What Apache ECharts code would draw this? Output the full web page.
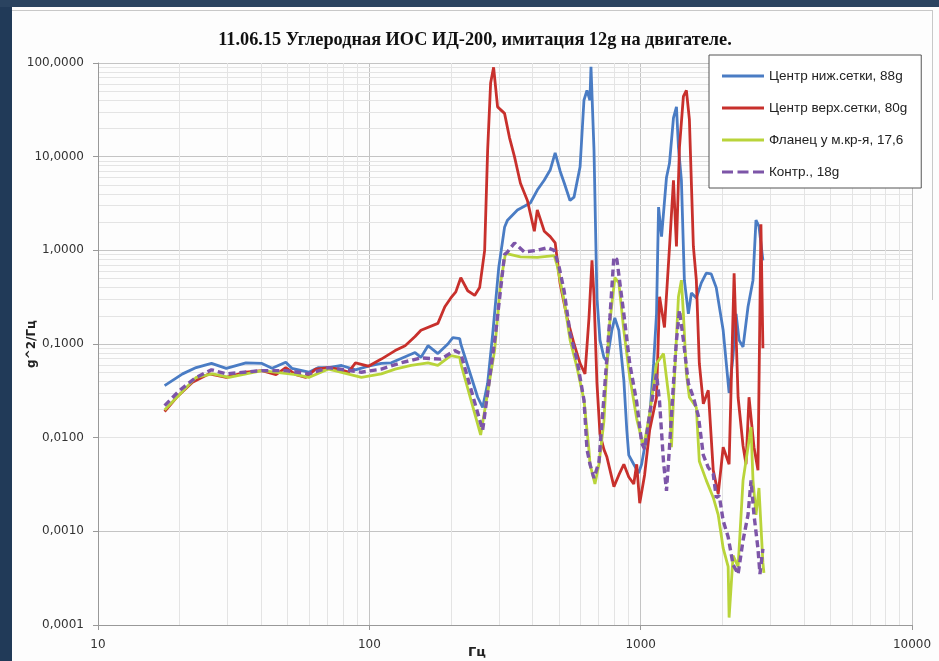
<!DOCTYPE html>
<html><head><meta charset="utf-8">
<script src="https://cdn.jsdelivr.net/npm/echarts/dist/echarts.min.js"></script>
<style>html,body{margin:0;padding:0;background:#fff;}#c{width:939px;height:661px;}</style>
</head><body><div id="c"></div>
<script>
const titleText = '11.06.15 Углеродная ИОС ИД-200, имитация 12g на двигателе.';
const seriesNames = ['Центр ниж.сетки, 88g', 'Центр верх.сетки, 80g', 'Фланец у м.кр-я, 17,6', 'Контр., 18g'];
const xTickLabels = {10: '10', 100: '100', 1000: '1000', 10000: '10000'};
const yTickLabels = {100: '100,0000', 10: '10,0000', 1: '1,0000', 0.1: '0,1000', 0.01: '0,0100', 0.001: '0,0010', 0.0001: '0,0001'};

const blueData = [[17.6,0.036],[20.5,0.048],[23,0.056],[26.2,0.062],[29.7,0.055],[35.1,0.063],[40.2,0.062],[43.8,0.055],[49.2,0.064],[51.8,0.055],[59.8,0.050],[65,0.056],[70.8,0.056],[79,0.059],[88.9,0.053],[99.2,0.058],[110.7,0.062],[120.4,0.063],[131,0.070],[147.4,0.081],[155,0.072],[164.5,0.096],[178.9,0.079],[194.7,0.10],[203.1,0.117],[215.4,0.114],[217.3,0.10],[250.8,0.027],[261.6,0.021],[272.9,0.038],[285,0.13],[300,0.66],[315,1.76],[323,2.1],[351.5,2.7],[392,3.2],[416,4.4],[441,5.6],[464,7.2],[484,11],[505,7],[522,5.3],[549,3.4],[568,3.7],[598,7.8],[618,40],[634,51],[650,40],[656,91],[673,11.7],[690,0.31],[708,0.11],[732,0.072],[751,0.065],[783,0.14],[803,0.19],[831,0.14],[867,0.041],[889,0.012],[904,0.0065],[943,0.0052],[983,0.0042],[1008,0.0052],[1034,0.0079],[1079,0.016],[1116,0.062],[1144,0.21],[1164,2.9],[1194,1.4],[1245,6.0],[1277,8.5],[1321,26],[1355,34],[1378,12.6],[1413,5.6],[1449,0.48],[1499,0.21],[1538,0.35],[1604,0.31],[1673,0.45],[1745,0.57],[1820,0.56],[1899,0.40],[2014,0.14],[2118,0.03],[2191,0.075],[2247,0.21],[2305,0.11],[2384,0.093],[2487,0.25],[2594,0.48],[2661,2.1],[2729,1.8],[2822,0.78]];

const redData = [[17.6,0.019],[19.5,0.027],[22.3,0.039],[25.7,0.048],[29.7,0.044],[35.1,0.050],[40.2,0.052],[45.3,0.047],[49.2,0.056],[53.6,0.047],[58.3,0.044],[63.4,0.054],[70.8,0.056],[77,0.054],[83.8,0.050],[88.9,0.063],[99.2,0.058],[110.7,0.069],[124.5,0.085],[135.5,0.096],[147.4,0.12],[155,0.14],[178.9,0.166],[189.8,0.25],[199.7,0.31],[208.3,0.36],[217.3,0.51],[230.5,0.37],[244.5,0.33],[255,0.40],[266.1,1.0],[272.9,11.7],[279.9,61],[287.1,90],[296.9,34],[315,29],[328.5,16],[342.7,10],[360.5,5.2],[382.4,3.4],[405.7,1.6],[415.9,2.7],[441.3,1.6],[464.2,1.4],[484.2,1.2],[504.9,0.44],[535.6,0.19],[568.3,0.10],[597.8,0.062],[623.5,0.048],[645,0.19],[661.6,0.78],[672.8,0.33],[690.1,0.038],[707.9,0.011],[732,0.0075],[751,0.0062],[797,0.0030],[831,0.0040],[867,0.0052],[904,0.0038],[943,0.0032],[967,0.0052],[992,0.0020],[1034,0.0040],[1079,0.012],[1144,0.027],[1174,0.32],[1224,0.15],[1277,1.07],[1321,5.6],[1355,1.1],[1390,12.6],[1437,44],[1474,51],[1512,25],[1564,1.1],[1604,0.48],[1645,0.062],[1702,0.023],[1775,0.032],[1851,0.0045],[1931,0.0025],[2014,0.0079],[2118,0.0052],[2210,0.57],[2286,0.027],[2384,0.0082],[2445,0.0052],[2508,0.027],[2616,0.0079],[2706,0.0045],[2775,1.9],[2822,0.09]];

const greenData = [[17.6,0.0197],[23,0.044],[26.4,0.048],[30.4,0.044],[40.2,0.052],[53.6,0.047],[59.8,0.044],[70.8,0.054],[93.5,0.044],[110.7,0.048],[124.5,0.054],[142.5,0.059],[164.5,0.063],[178.9,0.059],[199.7,0.075],[215.4,0.072],[217.3,0.062],[257.2,0.0107],[289.5,0.085],[304.5,0.45],[317.6,0.93],[360.5,0.85],[415.9,0.84],[480.1,0.88],[492.4,0.69],[522.2,0.29],[549.4,0.11],[582.9,0.056],[618.3,0.025],[645,0.0073],[650.5,0.0052],[678.5,0.0032],[701.9,0.0052],[732.2,0.015],[763.7,0.14],[803.4,0.51],[831,0.45],[866.8,0.14],[911.3,0.045],[966.7,0.016],[1025.6,0.0079],[1079,0.018],[1144,0.062],[1214,0.079],[1277,0.024],[1299,0.0079],[1321,0.026],[1378,0.32],[1413,0.48],[1437,0.21],[1474,0.048],[1512,0.027],[1604,0.021],[1645,0.0056],[1745,0.0035],[1851,0.0023],[1931,0.0015],[2014,0.00066],[2101,0.00042],[2118,0.00012],[2191,0.00055],[2286,0.00042],[2384,0.0035],[2487,0.0079],[2551,0.013],[2594,0.0035],[2661,0.0015],[2729,0.0029],[2822,0.00046],[2846,0.00036]];

const purpleData = [[17.6,0.022],[20,0.032],[23,0.044],[26.2,0.053],[29.7,0.048],[40.2,0.052],[49.2,0.052],[59.8,0.048],[70.8,0.056],[93.5,0.050],[110.7,0.054],[131,0.063],[155,0.071],[183.5,0.069],[206.5,0.085],[217.3,0.079],[261.6,0.012],[292,0.13],[315,0.90],[323,0.96],[342.7,1.2],[372.9,0.96],[415.9,1.0],[452.6,1.07],[480.1,1.0],[500.7,0.66],[522.2,0.37],[549.4,0.13],[582.9,0.067],[618.3,0.025],[634.2,0.0075],[650.5,0.0052],[672.8,0.0037],[701.9,0.0055],[732.2,0.027],[770.1,0.19],[796.6,0.85],[817.1,0.80],[866.8,0.21],[911.3,0.062],[966.7,0.024],[1008.5,0.0088],[1034.4,0.0075],[1079,0.018],[1144,0.048],[1174,0.024],[1214,0.0055],[1245,0.0027],[1277,0.0079],[1321,0.038],[1355,0.11],[1390,0.23],[1437,0.11],[1499,0.038],[1564,0.027],[1632,0.017],[1702,0.0065],[1775,0.0048],[1851,0.0041],[1899,0.0023],[1948,0.0024],[2014,0.0013],[2101,0.00087],[2191,0.00044],[2286,0.00035],[2384,0.0008],[2487,0.0015],[2551,0.0035],[2616,0.0015],[2706,0.00065],[2752,0.00035],[2822,0.00065]];

const colors = ['#4a7cc4', '#c8302c', '#b9d43a', '#7d55a8'];
const solidIcon = 'path://M0,0H42V3H0Z';
const dashIcon = 'path://M0,0H11V3H0Z M15.5,0H26.5V3H15.5Z M31,0H42V3H31Z';

const xMinor = [];
for (let e = 1; e <= 3; e++) for (let k = 2; k <= 9; k++) xMinor.push({xAxis: k * Math.pow(10, e)});
const yMinor = [];
for (let e = -4; e <= 1; e++) for (let k = 2; k <= 9; k++) yMinor.push({yAxis: +(k * Math.pow(10, e)).toPrecision(3)});

const chart = echarts.init(document.getElementById('c'));
const font = 'DejaVu Sans';
chart.setOption({
  animation: false,
  backgroundColor: '#fdfdfd',
  title: {
    text: titleText, left: 470, top: 26, textAlign: 'center',
    textStyle: {fontFamily: 'Liberation Serif', fontWeight: 'bold', fontSize: 18.3, color: '#111'}
  },
  graphic: [
    {type: 'rect', left: 0, top: 0, shape: {width: 12, height: 661}, style: {fill: '#213a58'}, z: 100},
    {type: 'rect', left: 0, top: 0, shape: {width: 939, height: 7}, style: {fill: '#2a4360'}, z: 100},
    {type: 'line', shape: {x1: 12, y1: 10.5, x2: 932, y2: 10.5}, style: {stroke: '#c8c8c8', lineWidth: 1}, z: 100},
    {type: 'line', shape: {x1: 932.5, y1: 10, x2: 932.5, y2: 300}, style: {stroke: '#c8c8c8', lineWidth: 1}, z: 100}
  ],
  legend: {
    data: [
      {name: seriesNames[0], icon: solidIcon},
      {name: seriesNames[1], icon: solidIcon},
      {name: seriesNames[2], icon: solidIcon},
      {name: seriesNames[3], icon: dashIcon}
    ],
    orient: 'vertical', left: 709, top: 55, z: 20,
    itemWidth: 42, itemHeight: 14, itemGap: 18, symbolKeepAspect: true,
    padding: [14, 14, 9, 13],
    borderColor: '#555', borderWidth: 1, backgroundColor: '#fff',
    textStyle: {fontFamily: 'Liberation Sans', fontSize: 13.5, color: '#222'}
  },
  grid: {left: 98, top: 63, width: 814, height: 562, outerBoundsMode: 'none', containLabel: false},
  xAxis: {
    type: 'log', logBase: 10, min: 10, max: 10000,
    name: 'Гц', nameLocation: 'middle', nameGap: 21, nameMoveOverlap: false,
    nameTextStyle: {fontFamily: font, fontWeight: 'bold', fontSize: 13, color: '#222', padding: [0, 56, 0, 0]},
    axisLine: {lineStyle: {color: '#999'}},
    axisTick: {show: true, length: 5, lineStyle: {color: '#999'}},
    axisLabel: {formatter: v => xTickLabels[Math.round(v)] || '', margin: 14, fontFamily: font, fontSize: 12, color: '#333'},
    splitLine: {show: true, lineStyle: {color: '#c4c4c4'}}
  },
  yAxis: {
    type: 'log', logBase: 10, min: 0.0001, max: 100,
    name: 'g^2/Гц', nameLocation: 'middle', nameGap: 60, nameMoveOverlap: false,
    nameTextStyle: {fontFamily: font, fontWeight: 'bold', fontSize: 12, color: '#222'},
    axisLine: {show: true, lineStyle: {color: '#999'}},
    axisTick: {show: true, length: 5, lineStyle: {color: '#999'}},
    axisLabel: {formatter: v => yTickLabels[+v.toPrecision(3)] || '', margin: 14, fontFamily: font, fontSize: 12, color: '#333'},
    splitLine: {show: true, lineStyle: {color: '#c4c4c4'}}
  },
  series: [
    {name: 'grid-minor', type: 'line', data: [[10, 1]], symbol: 'none', lineStyle: {opacity: 0}, silent: true, z: 0,
     markLine: {z: 0, silent: true, symbol: 'none', label: {show: false}, animation: false,
       lineStyle: {color: '#e4e4e4', width: 1, type: 'solid'}, data: xMinor.concat(yMinor)}},
    {name: seriesNames[0], type: 'line', data: blueData, symbol: 'none', color: colors[0], lineStyle: {width: 2.8, color: colors[0]}, z: 6},
    {name: seriesNames[1], type: 'line', data: redData, symbol: 'none', color: colors[1], lineStyle: {width: 2.8, color: colors[1]}, z: 7},
    {name: seriesNames[2], type: 'line', data: greenData, symbol: 'none', color: colors[2], lineStyle: {width: 2.8, color: colors[2]}, z: 8},
    {name: seriesNames[3], type: 'line', data: purpleData, symbol: 'none', color: colors[3], lineStyle: {width: 3.4, color: colors[3], type: [7, 4]}, z: 9}
  ]
});
</script></body></html>
